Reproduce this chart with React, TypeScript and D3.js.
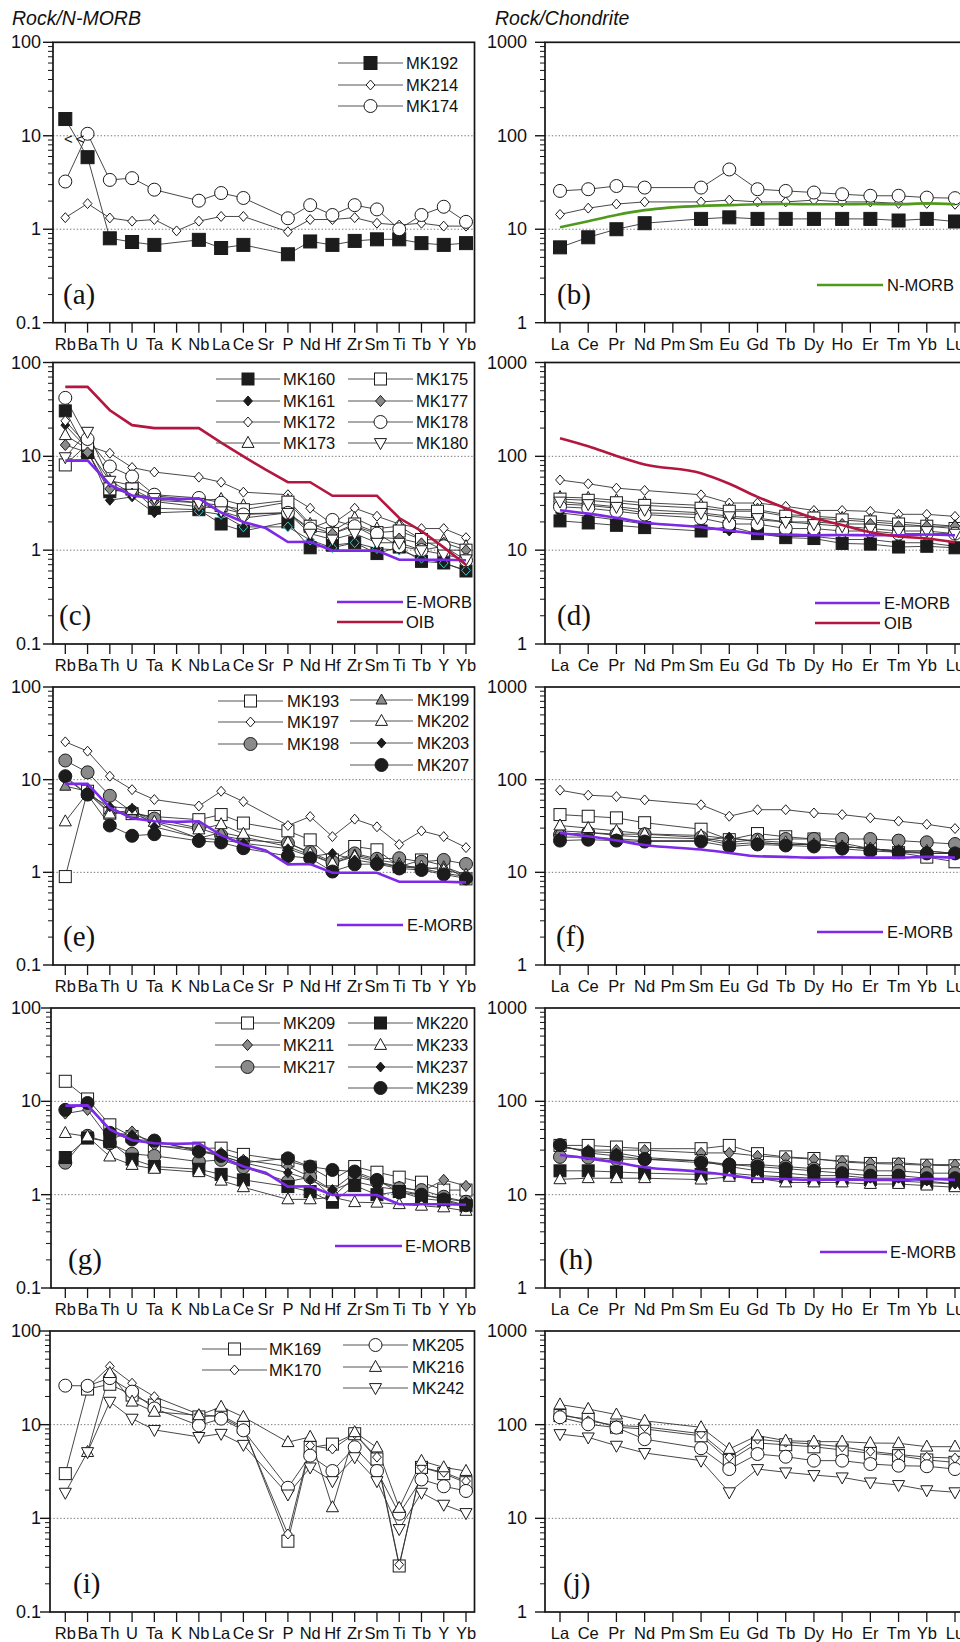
import React from "react";
import * as d3 from "d3";

// ---------- categories ----------
const SPIDER = ["Rb","Ba","Th","U","Ta","K","Nb","La","Ce","Sr","P","Nd","Hf","Zr","Sm","Ti","Tb","Y","Yb"];
const REE = ["La","Ce","Pr","Nd","Pm","Sm","Eu","Gd","Tb","Dy","Ho","Er","Tm","Yb","Lu"];
const SPIDER_TICKS = ["0.1","1","10","100"];
const REE_TICKS = ["1","10","100","1000"];
const N = null;

// ---------- reference compositions ----------
const EMORB_S = [9.0, 9.05, 5.0, 3.83, 3.56, 3.5, 3.56, 2.52, 2.0, 1.72, 1.22, 1.23, 0.99, 0.99, 0.99, 0.79, 0.79, 0.79, 0.78];
const OIB_S = [55, 55, 31, 21.5, 20, 20, 20, 14, 10, 7.2, 5.3, 5.3, 3.8, 3.8, 3.8, 2.2, 1.6, 1.07, 0.7];
const NMORB_R = [10.5, 12.2, 14.2, 16.0, N, 17.8, 18.1, 18.5, 18.6, 18.5, 18.5, 18.6, 18.5, 18.9, 18.5];
const EMORB_R = [26.6, 24.5, 22.1, 19.7, N, 17.6, 16.2, 14.9, 14.7, 14.4, 14.5, 14.4, 14.4, 14.7, 14.4];
const OIB_R = [156, 128, 101, 82, N, 66, 51, 37, 28, 22, 18.5, 15.5, 14, 13.3, 12.1];

// ---------- (a)/(b) ----------
const MK192_S = [15.1, 5.9, 0.80, 0.73, 0.68, N, 0.77, 0.63, 0.68, N, 0.54, 0.74, 0.68, 0.75, 0.78, 0.78, 0.71, 0.68, 0.71];
const MK214_S = [1.33, 1.88, 1.32, 1.22, 1.27, 0.96, 1.22, 1.37, 1.37, N, 0.94, 1.27, 1.27, 1.33, 1.16, 1.11, 1.16, 1.08, 1.08];
const MK174_S = [3.24, 10.5, 3.37, 3.52, 2.65, N, 2.02, 2.44, 2.16, N, 1.31, 1.81, 1.42, 1.81, 1.63, 1.0, 1.42, 1.74, 1.2];
const MK192_R = [6.4, 8.2, 10.0, 11.6, N, 12.9, 13.4, 12.9, 12.9, 12.9, 12.9, 12.9, 12.4, 12.9, 12.1];
const MK214_R = [14.4, 16.8, 18.6, 19.6, N, 19.6, 20.5, 19.6, 19.6, 20.5, 19.6, 19.6, 18.9, 18.9, 18.5];
const MK174_R = [25.7, 26.8, 29.0, 27.9, N, 27.9, 43.6, 26.8, 25.7, 24.7, 23.7, 22.8, 22.8, 21.8, 21.5];

// ---------- (c)/(d) ----------
const MK160_S = [30.5, 11, 4.2, 4.5, 2.8, N, 2.7, 1.9, 1.6, N, 2.0, 1.06, 1.13, 1.2, 0.92, 1.08, 0.76, 0.73, 0.6];
const MK161_S = [21.5, 12, 3.4, 3.7, 2.5, N, 2.6, 2.4, 1.77, N, 1.77, 1.28, 1.06, 1.2, 1.04, 1.0, 0.82, 0.73, 0.61];
const MK172_S = [23.9, 13, 10.8, 7.6, 6.8, N, 6.0, 5.3, 4.15, N, 3.9, 2.8, 1.9, 2.8, 2.3, 1.9, 1.7, 1.7, 1.36];
const MK173_S = [16.8, 12, 5.5, 4.9, 3.8, N, 3.4, 3.5, 3.0, N, 3.4, 1.9, 1.6, 2.2, 1.7, 1.8, 1.3, 1.28, 1.1];
const MK175_S = [8.1, 13.5, 4.5, 4.5, 3.4, N, 3.2, 3.0, 2.7, N, 3.25, 1.8, 1.5, 1.9, 1.54, 1.6, 1.3, 1.0, 1.0];
const MK177_S = [13.2, 11, 4.5, 4.0, 3.3, N, 2.9, 2.8, 2.45, N, 2.5, 1.63, 1.5, 1.81, 1.36, 1.33, 1.18, 1.2, 1.0];
const MK178_S = [42, 15.3, 7.8, 6.1, 3.9, N, 3.6, 3.2, 2.4, N, 2.5, 1.7, 2.1, 1.8, 1.5, 1.1, 1.0, 1.1, 0.78];
const MK180_S = [9.8, 18.3, 5.5, 4.0, 3.6, N, 3.2, 2.6, 2.2, N, 2.5, 1.5, 1.3, 1.5, 1.2, 1.2, 1.0, 0.9, 0.8];
const MK160_R = [20.5, 19.5, 18.4, 17.4, N, 16, 17.9, 15, 13.6, 13.3, 11.8, 11.6, 10.8, 11.0, 10.6];
const MK161_R = [25, 23, 21, 19, N, 18, 16, 15, 14, 14, 13, 13, 12, 12, 11];
const MK172_R = [56, 51, 45.8, 43.3, N, 38.9, 31.8, 31.8, 29.3, 26.5, 26.5, 25.9, 24.1, 24.1, 22.9];
const MK173_R = [36.7, 36, 34, 32, N, 30, 27, 27, 24, 23, 22, 21, 20, 19, 18];
const MK175_R = [35, 34, 32, 30, N, 28, 26, 26, 23, 22, 21, 20, 19, 18, 17];
const MK177_R = [31, 30, 28, 25, N, 24, 22, 21, 20, 20, 19, 19, 18, 18, 18];
const MK178_R = [29, 28, 26, 24, N, 22, 19, 19, 17, 17, 16, 16, 15, 15, 15];
const MK180_R = [33, 31, 29, 27, N, 25, 23, 22, 20, 19, 18, 17, 16, 16, 15];

// ---------- (e)/(f) ----------
const MK193_S = [0.9, 7.5, 4.35, 4.3, 4.0, N, 3.7, 4.2, 3.4, N, 2.8, 2.24, 1.36, 1.9, 1.75, 1.15, 1.36, 1.18, 0.85];
const MK197_S = [25.6, 20.3, 10.9, 7.8, 6.1, N, 5.2, 7.5, 5.8, N, 3.2, 4.0, 2.43, 3.75, 3.1, 2.0, 2.8, 2.43, 1.85];
const MK198_S = [16.1, 12.0, 6.7, 4.5, 3.8, N, 3.0, 2.5, 2.24, N, 2.06, 1.65, 1.3, 1.6, 1.4, 1.42, 1.3, 1.36, 1.23];
const MK199_S = [8.5, 7.5, 4.7, 4.3, 3.5, N, 2.33, 2.7, 2.4, N, 1.9, 1.54, 1.25, 1.54, 1.36, 1.25, 1.06, 1.15, 0.94];
const MK202_S = [3.54, 7.2, 4.3, 4.7, 3.5, N, 2.9, 3.3, 2.6, N, 2.1, 1.6, 1.25, 1.48, 1.3, 1.15, 1.15, 1.06, 0.94];
const MK203_S = [10.4, 6.9, 5.1, 4.9, 3.1, N, 2.35, 2.24, 2.06, N, 1.8, 1.48, 1.6, 1.36, 1.25, 1.15, 1.1, 0.98, 0.9];
const MK207_S = [10.9, 6.9, 3.2, 2.48, 2.58, N, 2.18, 2.1, 1.82, N, 1.5, 1.42, 1.02, 1.22, 1.23, 1.1, 1.06, 0.95, 0.86];
const MK193_R = [42, 40.3, 38.7, 34.3, N, 29.2, 22.5, 26.2, 24.2, 22.9, 20.7, 18, 16.3, 14.6, 13];
const MK197_R = [77, 68, 65.7, 60.5, N, 53.6, 40.3, 47.4, 47.4, 43.7, 42, 38.7, 35.7, 33, 29.7];
const MK198_R = [25.4, 26.9, 25.8, 25.8, N, 23.8, 21.1, 22.5, 22.9, 22.9, 22.9, 22.9, 22, 21.1, 20.2];
const MK199_R = [28, 27, 25, 24, N, 23, 20, 21, 20, 20, 19, 18, 17, 16, 16];
const MK202_R = [32, 30, 28, 26, N, 25, 23, 22, 21, 20, 19, 18, 17, 17, 16];
const MK203_R = [24, 24, 23, 22, N, 22, 24, 21, 20, 20, 19, 18, 17, 17, 16];
const MK207_R = [22, 22.5, 22, 21.5, N, 21.5, 19, 20, 19.5, 19, 18, 17, 16.5, 16, 16];

// ---------- (g)/(h) ----------
const MK209_S = [16.4, 10.6, 5.6, 4.2, 3.3, N, 3.15, 3.15, 2.7, N, 2.3, 1.97, 1.44, 2.0, 1.74, 1.54, 1.36, 1.12, 1.12];
const MK211_S = [7.4, 8.1, 3.9, 4.75, 3.4, N, 2.9, 2.8, 2.36, N, 2.0, 1.56, 1.12, 1.7, 1.38, 1.22, 1.08, 1.44, 1.24];
const MK217_S = [2.2, 4.27, 3.56, 2.74, 2.6, N, 2.26, 2.36, 1.97, N, 1.38, 1.54, 0.94, 1.56, 1.38, 1.17, 1.12, 0.95, 0.84];
const MK220_S = [2.5, 4.04, 3.7, 2.4, 2.0, N, 1.87, 1.65, 1.44, N, 1.22, 1.08, 0.83, 1.25, 1.0, 1.08, 0.91, 0.86, 0.76];
const MK233_S = [4.57, 4.2, 2.56, 2.08, 1.89, N, 1.74, 1.41, 1.2, N, 0.89, 0.89, 0.94, 0.83, 0.82, 0.79, 0.76, 0.73, 0.67];
const MK237_S = [8.1, 9.6, 4.6, 4.4, 3.7, N, 3.0, 2.6, 2.2, N, 1.72, 1.44, 1.12, 1.38, 1.22, 1.12, 1.0, 0.91, 0.84];
const MK239_S = [8.1, 9.6, 4.6, 3.9, 3.8, N, 2.9, 2.6, 2.2, N, 2.45, 2.0, 1.84, 1.77, 1.44, 1.06, 1.0, 0.89, 0.77];
const MK209_R = [33.7, 33.7, 32.4, 31.1, N, 31.1, 33.7, 27.5, 25.4, 24.4, 22.4, 21.6, 21.2, 20.7, 20.4];
const MK211_R = [32, 30, 30, 30, N, 28, 28, 26, 25, 24, 23, 22, 22, 21, 21];
const MK217_R = [25.4, 25, 24, 24, N, 23, 21, 21, 20, 19, 19, 18, 18, 17, 17];
const MK220_R = [18, 18, 17.5, 17, N, 16.5, 17, 16, 15.5, 15, 15, 14.5, 14, 13.5, 13];
const MK233_R = [14.6, 15, 15, 15, N, 14.5, 15.5, 15, 13.5, 13.5, 13.5, 13, 13, 12.5, 12];
const MK237_R = [33, 29, 28, 25, N, 23, 20, 18, 17, 16, 16, 15, 15, 14, 13];
const MK239_R = [34, 28, 26, 24, N, 22, 21, 20, 19, 18, 17, 16, 16, 15, 15];

// ---------- (i)/(j) ----------
const MK169_S = [3.0, 24, 27, 20.7, 16.2, N, 12.1, 12.6, 9.4, N, 0.57, 5.7, 6.2, 8.0, 4.3, 0.31, 3.5, 3.0, 2.4];
const MK170_S = [N, 25, 41.9, 27.7, 19.9, N, 12.9, 12.1, 9.1, N, 0.68, 6.0, 5.5, 8.0, 4.5, 0.32, 3.5, 3.1, 2.5];
const MK205_S = [26.1, 26, 31.4, 22.5, 14.9, N, 9.8, 11.6, 8.7, N, 2.12, 4.67, 3.2, 5.74, 3.2, 1.12, 2.6, 2.2, 1.96];
const MK216_S = [N, 5.1, 35.5, 17.6, 13.7, N, 12.6, 15.5, 12.1, N, 6.5, 7.4, 1.31, 8.3, 5.7, 1.29, 4.1, 3.5, 3.2];
const MK242_S = [1.88, 5.1, 17.6, 11.6, 8.8, N, 7.4, 8.0, 6.1, N, 1.8, 3.5, 2.5, 4.5, 2.5, 0.77, 1.88, 1.4, 1.14];
const MK169_R = [125, 115, 94, 90, N, 76, 41.3, 63.7, 61, 58, 53.7, 49.5, 46.7, 42, 39.6];
const MK170_R = [130, 110, 98, 95, N, 80, 45, 70, 65, 62, 58, 52, 48, 45, 44];
const MK205_R = [120, 101, 93, 70, N, 56, 33.6, 48.6, 45.5, 41.3, 41.3, 38, 36.5, 36, 33.6];
const MK216_R = [164, 147, 128, 110, N, 93.7, 55, 76.4, 67.5, 65.9, 65.9, 63.7, 63.3, 58.2, 58.2];
const MK242_R = [79.4, 73.2, 59.7, 49.9, N, 41.3, 19, 33.6, 31, 29, 27.4, 24.2, 22.7, 20, 19];

// ---------- styles ----------
const BLK = "#1c1c1c", GRY = "#8a8a8a", WHT = "#ffffff";
const EM_COL = "#7d2ae8", OIB_COL = "#b3163f", NM_COL = "#4f9a1c";
const SANS = "'Liberation Sans', Arial, Helvetica, sans-serif";
const SERIF = "'Liberation Serif', 'Times New Roman', serif";

type Shape = "square" | "circle" | "diamond" | "triUp" | "triDown";
type Mk = { shape: Shape; fill: string; size: number };
type Series = { name: string; values: (number | null)[]; mk: Mk; accentFrom?: number };
type Ref = { name: string; values: (number | null)[]; color: string };

const M = {
  sqB: { shape: "square", fill: BLK, size: 12 } as Mk,
  sqBL: { shape: "square", fill: BLK, size: 13 } as Mk,
  sqW: { shape: "square", fill: WHT, size: 12 } as Mk,
  ciW: { shape: "circle", fill: WHT, size: 13 } as Mk,
  ciG: { shape: "circle", fill: GRY, size: 13 } as Mk,
  ciB: { shape: "circle", fill: BLK, size: 13 } as Mk,
  diW: { shape: "diamond", fill: WHT, size: 8 } as Mk,
  diB: { shape: "diamond", fill: BLK, size: 8 } as Mk,
  diG: { shape: "diamond", fill: GRY, size: 9 } as Mk,
  tuW: { shape: "triUp", fill: WHT, size: 11 } as Mk,
  tuG: { shape: "triUp", fill: GRY, size: 10 } as Mk,
  tdW: { shape: "triDown", fill: WHT, size: 11 } as Mk,
};

function Marker({ mk, x, y, stroke }: { mk: Mk; x: number; y: number; stroke?: string }) {
  const s = mk.size;
  const st = stroke || "#1a1a1a";
  const common = { fill: mk.fill, stroke: st, strokeWidth: 1 };
  if (mk.shape === "square") return <rect x={x - s / 2} y={y - s / 2} width={s} height={s} {...common} />;
  if (mk.shape === "circle") return <circle cx={x} cy={y} r={s / 2} {...common} />;
  if (mk.shape === "diamond") {
    const w = s * 0.55, h = s * 0.62;
    return <polygon points={`${x},${y - h} ${x + w},${y} ${x},${y + h} ${x - w},${y}`} {...common} />;
  }
  if (mk.shape === "triUp") {
    const w = s * 0.55;
    return <polygon points={`${x},${y - s * 0.6} ${x + w},${y + s * 0.4} ${x - w},${y + s * 0.4}`} {...common} />;
  }
  const w = s * 0.55;
  return <polygon points={`${x},${y + s * 0.6} ${x + w},${y - s * 0.4} ${x - w},${y - s * 0.4}`} {...common} />;
}

type LegendEntry = { name: string; x0: number; x1: number; tx: number; y: number };

type PanelProps = {
  left: number; right: number; top: number; bottom: number;
  cats: string[]; firstX: number; lastX: number;
  domain: [number, number]; tickLabels: string[]; labelRight: number;
  series: Series[]; refs: Ref[]; smoothRefs: boolean;
  legend: LegendEntry[]; refLegend: LegendEntry[];
  letter: string; letterX: number;
  annotate?: boolean;
};

function Panel(p: PanelProps) {
  const x = d3.scalePoint<string>().domain(p.cats).range([p.firstX, p.lastX]);
  const y = d3.scaleLog().domain(p.domain).range([p.bottom, p.top]);
  const pts = (vals: (number | null)[]) =>
    vals.map((v, i) => (v == null ? null : ([x(p.cats[i]) as number, y(v)] as [number, number])))
      .filter((d): d is [number, number] => d !== null);
  const lin = d3.line<[number, number]>().x(d => d[0]).y(d => d[1]);
  const smooth = d3.line<[number, number]>().x(d => d[0]).y(d => d[1]).curve(d3.curveMonotoneX);
  const decades: number[] = [];
  for (let v = p.domain[0]; v <= p.domain[1] * 1.0001; v *= 10) decades.push(v);
  const minors: number[] = [];
  decades.slice(0, -1).forEach(d => { for (let k = 2; k <= 9; k++) minors.push(d * k); });
  const byName = (n: string) => p.series.find(s => s.name === n)!;
  const refByName = (n: string) => p.refs.find(r => r.name === n)!;

  return (
    <g>
      {decades.slice(1, -1).map(d => (
        <line key={"g" + d} x1={p.left} x2={p.right} y1={y(d)} y2={y(d)} stroke="#555" strokeWidth={0.8} strokeDasharray="1.4,2" />
      ))}
      {p.series.map(s => (
        <path key={"l" + s.name} d={lin(pts(s.values)) || ""} fill="none" stroke="#333" strokeWidth={0.9} />
      ))}
      {p.series.map(s => (
        <g key={"m" + s.name}>
          {s.values.map((v, i) => v == null ? null : (
            <Marker key={i} mk={s.mk} x={x(p.cats[i]) as number} y={y(v)}
              stroke={s.accentFrom != null && i >= s.accentFrom ? "#36c8c8" : undefined} />
          ))}
        </g>
      ))}
      {p.refs.map(r => (
        <path key={"r" + r.name} d={(p.smoothRefs ? smooth : lin)(pts(r.values)) || ""} fill="none" stroke={r.color} strokeWidth={2.6} />
      ))}
      {p.annotate && (
        <g fontFamily={SANS} fontSize={15} fill="#111" textAnchor="middle">
          <text x={(x("Rb") as number) + 3} y={y(9.3) + 5}>{"<"}</text>
          <text x={(x("Ba") as number) - 7.5} y={y(9.3) + 5}>{"<"}</text>
        </g>
      )}
      <rect x={p.left} y={p.top} width={p.right - p.left} height={p.bottom - p.top} fill="none" stroke="#151515" strokeWidth={1.7} />
      {decades.map(d => (
        <line key={"yt" + d} x1={p.left - 10} x2={p.left} y1={y(d)} y2={y(d)} stroke="#151515" strokeWidth={1.4} />
      ))}
      {minors.map(d => (
        <line key={"ym" + d} x1={p.left - 5} x2={p.left} y1={y(d)} y2={y(d)} stroke="#151515" strokeWidth={1} />
      ))}
      {decades.map((d, i) => (
        <text key={"yl" + d} x={p.labelRight} y={y(d) + 6} textAnchor="end" fontFamily={SANS} fontSize={18} fill="#111">
          {p.tickLabels[i]}
        </text>
      ))}
      {p.cats.map(c => (
        <g key={"xt" + c}>
          <line x1={x(c) as number} x2={x(c) as number} y1={p.bottom} y2={p.bottom + 10} stroke="#151515" strokeWidth={1.3} />
          <text x={x(c) as number} y={p.bottom + 27} textAnchor="middle" fontFamily={SANS} fontSize={16.5} fill="#111">{c}</text>
        </g>
      ))}
      {p.legend.map(e => {
        const s = byName(e.name);
        return (
          <g key={"lg" + e.name}>
            <line x1={e.x0} x2={e.x1} y1={e.y} y2={e.y} stroke="#555" strokeWidth={1} />
            <Marker mk={s.mk} x={(e.x0 + e.x1) / 2} y={e.y} />
            <text x={e.tx} y={e.y + 6} fontFamily={SANS} fontSize={16.5} fill="#111">{e.name}</text>
          </g>
        );
      })}
      {p.refLegend.map(e => {
        const r = refByName(e.name);
        return (
          <g key={"rl" + e.name}>
            <line x1={e.x0} x2={e.x1} y1={e.y} y2={e.y} stroke={r.color} strokeWidth={2.6} />
            <text x={e.tx} y={e.y + 6} fontFamily={SANS} fontSize={16.5} fill="#111">{e.name}</text>
          </g>
        );
      })}
      <text x={p.letterX} y={p.bottom - 19} fontFamily={SERIF} fontSize={29} fill="#111">{p.letter}</text>
    </g>
  );
}

// ---------- layout ----------
const ROWS = [
  { top: 42.3, bottom: 322.7 },
  { top: 362.5, bottom: 644 },
  { top: 687, bottom: 965 },
  { top: 1008, bottom: 1288 },
  { top: 1331, bottom: 1612 },
];
const LEFT_AXIS = [53, 53, 53, 51, 50];
const LETTERS_L = ["(a)", "(c)", "(e)", "(g)", "(i)"];
const LETTERS_R = ["(b)", "(d)", "(f)", "(h)", "(j)"];
const LETTER_XL = [63, 59, 63, 68, 73];
const LETTER_XR = [557, 557, 556, 559, 563];

const S = (name: string, values: (number | null)[], mk: Mk, accentFrom?: number): Series => ({ name, values, mk, accentFrom });

const SPIDER_SERIES: Series[][] = [
  [S("MK192", MK192_S, M.sqBL), S("MK214", MK214_S, M.diW), S("MK174", MK174_S, M.ciW)],
  [S("MK160", MK160_S, M.sqB), S("MK161", MK161_S, M.diB, 6), S("MK172", MK172_S, M.diW), S("MK173", MK173_S, M.tuW),
   S("MK175", MK175_S, M.sqW), S("MK177", MK177_S, M.diG), S("MK178", MK178_S, M.ciW), S("MK180", MK180_S, M.tdW)],
  [S("MK193", MK193_S, M.sqW), S("MK197", MK197_S, M.diW), S("MK198", MK198_S, M.ciG), S("MK199", MK199_S, M.tuG),
   S("MK202", MK202_S, M.tuW), S("MK203", MK203_S, M.diB), S("MK207", MK207_S, M.ciB)],
  [S("MK209", MK209_S, M.sqW), S("MK211", MK211_S, M.diG), S("MK217", MK217_S, M.ciG), S("MK220", MK220_S, M.sqB),
   S("MK233", MK233_S, M.tuW), S("MK237", MK237_S, M.diB), S("MK239", MK239_S, M.ciB)],
  [S("MK169", MK169_S, M.sqW), S("MK170", MK170_S, M.diW), S("MK205", MK205_S, M.ciW), S("MK216", MK216_S, M.tuW), S("MK242", MK242_S, M.tdW)],
];
const REE_SERIES: Series[][] = [
  [S("MK192", MK192_R, M.sqBL), S("MK214", MK214_R, M.diW), S("MK174", MK174_R, M.ciW)],
  [S("MK160", MK160_R, M.sqB), S("MK161", MK161_R, M.diB), S("MK172", MK172_R, M.diW), S("MK173", MK173_R, M.tuW),
   S("MK175", MK175_R, M.sqW), S("MK177", MK177_R, M.diG), S("MK178", MK178_R, M.ciW), S("MK180", MK180_R, M.tdW)],
  [S("MK193", MK193_R, M.sqW), S("MK197", MK197_R, M.diW), S("MK198", MK198_R, M.ciG), S("MK199", MK199_R, M.tuG),
   S("MK202", MK202_R, M.tuW), S("MK203", MK203_R, M.diB), S("MK207", MK207_R, M.ciB)],
  [S("MK209", MK209_R, M.sqW), S("MK211", MK211_R, M.diG), S("MK217", MK217_R, M.ciG), S("MK220", MK220_R, M.sqB),
   S("MK233", MK233_R, M.tuW), S("MK237", MK237_R, M.diB), S("MK239", MK239_R, M.ciB)],
  [S("MK169", MK169_R, M.sqW), S("MK170", MK170_R, M.diW), S("MK205", MK205_R, M.ciW), S("MK216", MK216_R, M.tuW), S("MK242", MK242_R, M.tdW)],
];

const EM_S: Ref = { name: "E-MORB", values: EMORB_S, color: EM_COL };
const OI_S: Ref = { name: "OIB", values: OIB_S, color: OIB_COL };
const NM_R: Ref = { name: "N-MORB", values: NMORB_R, color: NM_COL };
const EM_R: Ref = { name: "E-MORB", values: EMORB_R, color: EM_COL };
const OI_R: Ref = { name: "OIB", values: OIB_R, color: OIB_COL };

const SPIDER_REFS: Ref[][] = [[], [EM_S, OI_S], [EM_S], [EM_S], []];
const REE_REFS: Ref[][] = [[NM_R], [EM_R, OI_R], [EM_R], [EM_R], []];

const col = (names: string[], x0: number, x1: number, tx: number, ys: number[]): LegendEntry[] =>
  names.map((n, i) => ({ name: n, x0, x1, tx, y: ys[i] }));

const SPIDER_LEGENDS: LegendEntry[][] = [
  col(["MK192", "MK214", "MK174"], 338, 403, 406, [63, 85, 106]),
  [...col(["MK160", "MK161", "MK172", "MK173"], 216, 280, 283, [379, 401, 422, 443]),
   ...col(["MK175", "MK177", "MK178", "MK180"], 348, 413, 416, [379, 401, 422, 443])],
  [...col(["MK193", "MK197", "MK198"], 218, 283, 287, [701, 722, 744]),
   ...col(["MK199", "MK202", "MK203", "MK207"], 350, 413, 417, [700, 721, 743, 765])],
  [...col(["MK209", "MK211", "MK217"], 215, 280, 283, [1023, 1045, 1067]),
   ...col(["MK220", "MK233", "MK237", "MK239"], 348, 413, 416, [1023, 1045, 1067, 1088])],
  [...col(["MK169", "MK170"], 202, 267, 269, [1349, 1370]),
   ...col(["MK205", "MK216", "MK242"], 343, 408, 412, [1345, 1367, 1388])],
];
const SPIDER_REF_LEGENDS: LegendEntry[][] = [
  [],
  col(["E-MORB", "OIB"], 337, 403, 406, [602, 622]),
  col(["E-MORB"], 337, 403, 407, [925]),
  col(["E-MORB"], 335, 402, 405, [1246]),
  [],
];
const REE_REF_LEGENDS: LegendEntry[][] = [
  col(["N-MORB"], 817, 883, 887, [285]),
  col(["E-MORB", "OIB"], 815, 880, 884, [603, 623]),
  col(["E-MORB"], 817, 883, 887, [932]),
  col(["E-MORB"], 820, 887, 890, [1252]),
  [],
];

export default function App() {
  return (
    <svg width={960} height={1642} viewBox="0 0 960 1642"
      style={{ position: "absolute", left: 0, top: 0, background: "#fff", display: "block" }}>
      <rect x={0} y={0} width={960} height={1642} fill="#fff" />
      <text x={12} y={25} fontFamily={SANS} fontStyle="italic" fontSize={19.5} fill="#111">Rock/N-MORB</text>
      <text x={495} y={25} fontFamily={SANS} fontStyle="italic" fontSize={19.5} fill="#111">Rock/Chondrite</text>
      {ROWS.map((r, i) => (
        <g key={i}>
          <Panel left={LEFT_AXIS[i]} right={474.5} top={r.top} bottom={r.bottom}
            cats={SPIDER} firstX={65.3} lastX={466} domain={[0.1, 100]} tickLabels={SPIDER_TICKS} labelRight={41}
            series={SPIDER_SERIES[i]} refs={SPIDER_REFS[i]} smoothRefs={false}
            legend={SPIDER_LEGENDS[i]} refLegend={SPIDER_REF_LEGENDS[i]}
            letter={LETTERS_L[i]} letterX={LETTER_XL[i]} annotate={i === 0} />
          <Panel left={545} right={971} top={r.top} bottom={r.bottom}
            cats={REE} firstX={560} lastX={955} domain={[1, 1000]} tickLabels={REE_TICKS} labelRight={527}
            series={REE_SERIES[i]} refs={REE_REFS[i]} smoothRefs={true}
            legend={[]} refLegend={REE_REF_LEGENDS[i]}
            letter={LETTERS_R[i]} letterX={LETTER_XR[i]} />
        </g>
      ))}
    </svg>
  );
}
